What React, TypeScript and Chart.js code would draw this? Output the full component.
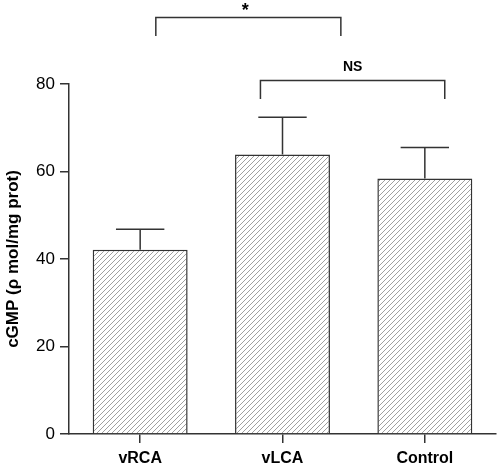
import React, { useEffect, useRef } from "react";
import { Chart, registerables } from "chart.js";

Chart.register(...registerables);

const categories = ["vRCA", "vLCA", "Control"];
const means = [42.1, 63.9, 58.4];
const sems = [4.7, 8.5, 7.1];
const yTicks = [0, 20, 40, 60, 80];

// significance brackets: from/to in category index units, y level and drop in data units
const bracketFrom = [0.11, 0.845];
const bracketTo = [1.41, 2.14];
const bracketLevel = [95.2, 80.8];
const bracketDrop = [4.2, 4.2];
const bracketLabels = ["*", "NS"];

const FONT = "'Liberation Sans', Arial, Helvetica, sans-serif";
const NARROW = "'Liberation Sans Narrow', 'Arial Narrow', 'Liberation Sans', Arial, sans-serif";
const INK = "#333333";

function makeHatch(): CanvasPattern | string {
  const s = 5;
  const c = document.createElement("canvas");
  c.width = s;
  c.height = s;
  const g = c.getContext("2d");
  if (!g) return "#ffffff";
  g.fillStyle = "#ffffff";
  g.fillRect(0, 0, s, s);
  g.strokeStyle = "#a0a0a0";
  g.lineWidth = 1;
  g.beginPath();
  g.moveTo(0, s);
  g.lineTo(s, 0);
  g.moveTo(-1, 1);
  g.lineTo(1, -1);
  g.moveTo(s - 1, s + 1);
  g.lineTo(s + 1, s - 1);
  g.stroke();
  const p = g.createPattern(c, "repeat");
  return p || "#ffffff";
}

const annotationPlugin = {
  id: "annotations",
  afterDatasetsDraw(chart: any) {
    const ctx = chart.ctx;
    const xs = chart.scales.x;
    const ys = chart.scales.y;
    ctx.save();
    ctx.strokeStyle = INK;
    ctx.lineWidth = 1.5;
    // error bars (upper only)
    means.forEach((m, i) => {
      const x = xs.getPixelForValue(i);
      const y0 = ys.getPixelForValue(m);
      const y1 = ys.getPixelForValue(m + sems[i]);
      const xl = xs.getPixelForValue(i - 0.17);
      const xr = xs.getPixelForValue(i + 0.17);
      ctx.beginPath();
      ctx.moveTo(x, y0);
      ctx.lineTo(x, y1);
      ctx.moveTo(xl, y1);
      ctx.lineTo(xr, y1);
      ctx.stroke();
    });
    // brackets
    ctx.fillStyle = "#000";
    ctx.textAlign = "center";
    bracketLabels.forEach((lab, i) => {
      const xa = xs.getPixelForValue(bracketFrom[i]);
      const xb = xs.getPixelForValue(bracketTo[i]);
      const yt = ys.getPixelForValue(bracketLevel[i]);
      const yb = ys.getPixelForValue(bracketLevel[i] - bracketDrop[i]);
      ctx.beginPath();
      ctx.moveTo(xa, yb);
      ctx.lineTo(xa, yt);
      ctx.lineTo(xb, yt);
      ctx.lineTo(xb, yb);
      ctx.stroke();
      if (lab === "*") {
        ctx.font = `bold 18px ${FONT}`;
        ctx.textBaseline = "top";
        ctx.fillText(lab, (xa + xb) / 2 - 3, yt - 15);
      } else {
        ctx.font = `bold 14px ${FONT}`;
        ctx.textBaseline = "bottom";
        ctx.fillText(lab, (xa + xb) / 2, yt - 6);
      }
    });
    ctx.restore();
  },
};

export default function App() {
  const ref = useRef<HTMLCanvasElement | null>(null);
  useEffect(() => {
    document.body.style.margin = "0";
    if (!ref.current) return;
    const hatch = makeHatch();
    const chart = new Chart(ref.current, {
      type: "bar",
      data: {
        labels: categories,
        datasets: [
          {
            data: means,
            backgroundColor: hatch as any,
            borderColor: INK,
            borderWidth: 1.5,
            categoryPercentage: 1,
            barPercentage: 0.667,
          },
        ],
      },
      options: {
        responsive: true,
        maintainAspectRatio: false,
        animation: false,
        layout: { padding: { top: 84, right: 1, left: 0, bottom: 0 } },
        plugins: { legend: { display: false }, tooltip: { enabled: false } },
        scales: {
          x: {
            grid: {
              offset: false,
              drawOnChartArea: false,
              drawTicks: true,
              tickLength: 9,
              color: INK,
              lineWidth: 1.5,
            },
            border: { display: true, color: INK, width: 1.5 },
            ticks: {
              color: "#000",
              padding: 6,
              font: { family: FONT, size: 16, weight: "bold" },
            },
            afterFit(scale: any) {
              scale.height = 34;
            },
          },
          y: {
            min: 0,
            max: 80,
            afterBuildTicks(scale: any) {
              scale.ticks = yTicks.map((v) => ({ value: v }));
            },
            grid: {
              drawOnChartArea: false,
              drawTicks: true,
              tickLength: 9,
              color: INK,
              lineWidth: 1.5,
            },
            border: { display: true, color: INK, width: 1.5 },
            ticks: {
              color: "#000",
              padding: 5,
              font: { family: NARROW, size: 17 },
            },
            title: {
              display: true,
              text: "cGMP (ρ mol/mg prot)",
              color: "#000",
              padding: { top: 3, bottom: 0 },
              font: { family: FONT, size: 17, weight: "bold" },
            },
            afterFit(scale: any) {
              scale.width = 69;
            },
          },
        },
      },
      plugins: [annotationPlugin],
    });
    return () => chart.destroy();
  }, []);
  return (
    <div style={{ width: 497, height: 468, position: "relative" }}>
      <canvas ref={ref} />
    </div>
  );
}
